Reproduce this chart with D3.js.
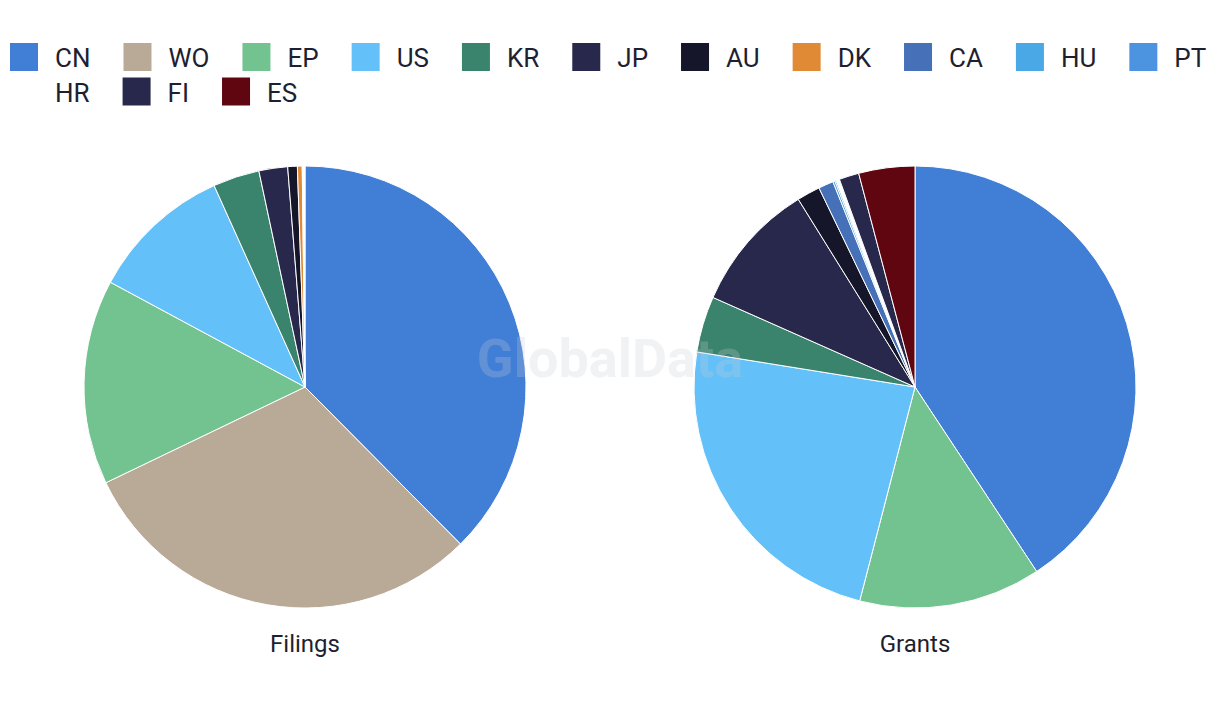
<!DOCTYPE html>
<html><head><meta charset="utf-8">
<script src="https://cdn.jsdelivr.net/npm/d3@7"></script>
<style>body{margin:0;background:#fff;} svg{display:block;font-family:Roboto, "Liberation Sans", sans-serif;}</style>
</head><body>
<svg id="chart" width="1220" height="720"></svg>
<script>
const categories = ["CN","WO","EP","US","KR","JP","AU","DK","CA","HU","PT","HR","FI","ES"];
const colors = ["#417ed6","#b8aa96","#73c391","#64c0f8","#3a836c","#27284b","#151629","#e08a36","#4670b8","#4aa8e6","#4c94df","#ffffff","#27284b","#600610"];
const filings = [37.6,30.3,15.0,10.4,3.4,2.1,0.7,0.35,0,0,0,0.2,0,0];
const grants  = [40.7,0,13.3,23.5,4.1,9.5,1.7,0,1.1,0.15,0.1,0.25,1.45,4.1];
const pieTitles = ["Filings","Grants"];

const svg = d3.select("#chart");
const color = d3.scaleOrdinal().domain(categories).range(colors);

// legend (flow layout)
const legend = svg.append("g");
let lx = 10, ly = 43;
categories.forEach((c,i) => {
  const g = legend.append("g");
  g.append("rect").attr("width",28).attr("height",28).attr("fill",color(c));
  const t = g.append("text").attr("x",45).attr("y",24).attr("font-size",26).attr("fill","#1e1f30").text(c);
  const tw = t.node().getComputedTextLength();
  if (lx + 45 + tw > 1215) { lx = 10; ly += 34.5; }
  g.attr("transform",`translate(${lx},${ly})`);
  lx += 45 + tw + 33;
});

const radius = 221;
const pie = d3.pie().sort(null).value(d => d.v);
const arc = d3.arc().innerRadius(0).outerRadius(radius);
[filings, grants].forEach((vals, k) => {
  const cx = 305 + k*610, cy = 387;
  const data = categories.map((c,i) => ({c, v: vals[i]}));
  const g = svg.append("g").attr("transform",`translate(${cx},${cy})`);
  g.selectAll("path").data(pie(data).filter(d => d.data.v > 0)).join("path")
    .attr("d", arc).attr("fill", d => color(d.data.c))
    .attr("stroke","#fff").attr("stroke-width",1);
  svg.append("text").attr("x",cx).attr("y",652).attr("text-anchor","middle")
    .attr("font-size",24).attr("fill","#1e1f30").text(pieTitles[k]);
});

svg.append("text").attr("x",610).attr("y",377).attr("text-anchor","middle")
  .attr("font-size",54).attr("font-weight","bold").attr("fill","#c8ccd6").attr("opacity",0.25)
  .text("GlobalData");
</script>
</body></html>
